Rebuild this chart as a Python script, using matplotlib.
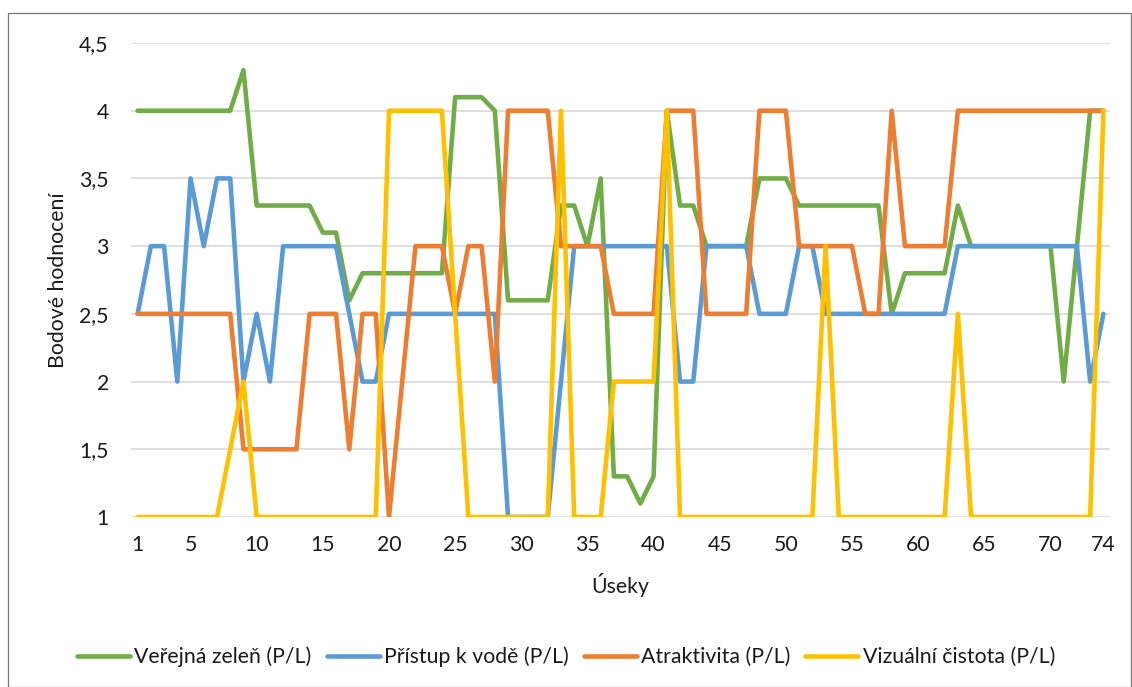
import matplotlib
matplotlib.use("Agg")
import matplotlib.pyplot as plt
from matplotlib.patches import Rectangle

plt.rcParams['font.family'] = ['Lato', 'DejaVu Sans']

# Segment numbers along the route
useky = list(range(1, 75))

verejna_zelen = [
    4.0, 4.0, 4.0, 4.0, 4.0, 4.0, 4.0, 4.0, 4.3, 3.3,
    3.3, 3.3, 3.3, 3.3, 3.1, 3.1, 2.6, 2.8, 2.8, 2.8,
    2.8, 2.8, 2.8, 2.8, 4.1, 4.1, 4.1, 4.0, 2.6, 2.6,
    2.6, 2.6, 3.3, 3.3, 3.0, 3.5, 1.3, 1.3, 1.1, 1.3,
    4.0, 3.3, 3.3, 3.0, 3.0, 3.0, 3.0, 3.5, 3.5, 3.5,
    3.3, 3.3, 3.3, 3.3, 3.3, 3.3, 3.3, 2.5, 2.8, 2.8,
    2.8, 2.8, 3.3, 3.0, 3.0, 3.0, 3.0, 3.0, 3.0, 3.0,
    2.0, 3.0, 4.0, 4.0,
]

pristup_k_vode = [
    2.5, 3.0, 3.0, 2.0, 3.5, 3.0, 3.5, 3.5, 2.0, 2.5,
    2.0, 3.0, 3.0, 3.0, 3.0, 3.0, 2.5, 2.0, 2.0, 2.5,
    2.5, 2.5, 2.5, 2.5, 2.5, 2.5, 2.5, 2.5, 1.0, 1.0,
    1.0, 1.0, 2.0, 3.0, 3.0, 3.0, 3.0, 3.0, 3.0, 3.0,
    3.0, 2.0, 2.0, 3.0, 3.0, 3.0, 3.0, 2.5, 2.5, 2.5,
    3.0, 3.0, 2.5, 2.5, 2.5, 2.5, 2.5, 2.5, 2.5, 2.5,
    2.5, 2.5, 3.0, 3.0, 3.0, 3.0, 3.0, 3.0, 3.0, 3.0,
    3.0, 3.0, 2.0, 2.5,
]

atraktivita = [
    2.5, 2.5, 2.5, 2.5, 2.5, 2.5, 2.5, 2.5, 1.5, 1.5,
    1.5, 1.5, 1.5, 2.5, 2.5, 2.5, 1.5, 2.5, 2.5, 1.0,
    2.0, 3.0, 3.0, 3.0, 2.5, 3.0, 3.0, 2.0, 4.0, 4.0,
    4.0, 4.0, 3.0, 3.0, 3.0, 3.0, 2.5, 2.5, 2.5, 2.5,
    4.0, 4.0, 4.0, 2.5, 2.5, 2.5, 2.5, 4.0, 4.0, 4.0,
    3.0, 3.0, 3.0, 3.0, 3.0, 2.5, 2.5, 4.0, 3.0, 3.0,
    3.0, 3.0, 4.0, 4.0, 4.0, 4.0, 4.0, 4.0, 4.0, 4.0,
    4.0, 4.0, 4.0, 4.0,
]

vizualni_cistota = [
    1.0, 1.0, 1.0, 1.0, 1.0, 1.0, 1.0, 1.5, 2.0, 1.0,
    1.0, 1.0, 1.0, 1.0, 1.0, 1.0, 1.0, 1.0, 1.0, 4.0,
    4.0, 4.0, 4.0, 4.0, 2.5, 1.0, 1.0, 1.0, 1.0, 1.0,
    1.0, 1.0, 4.0, 1.0, 1.0, 1.0, 2.0, 2.0, 2.0, 2.0,
    4.0, 1.0, 1.0, 1.0, 1.0, 1.0, 1.0, 1.0, 1.0, 1.0,
    1.0, 1.0, 3.0, 1.0, 1.0, 1.0, 1.0, 1.0, 1.0, 1.0,
    1.0, 1.0, 2.5, 1.0, 1.0, 1.0, 1.0, 1.0, 1.0, 1.0,
    1.0, 1.0, 1.0, 4.0,
]

series_names = [
    "Veřejná zeleň (P/L)",
    "Přístup k vodě (P/L)",
    "Atraktivita (P/L)",
    "Vizuální čistota (P/L)",
]
series_colors = ["#70AD47", "#5B9BD5", "#ED7D31", "#FFC000"]

x_ticks = [1, 5, 10, 15, 20, 25, 30, 35, 40, 45, 50, 55, 60, 65, 70, 74]
y_ticks = [1, 1.5, 2, 2.5, 3, 3.5, 4, 4.5]
y_tick_labels = ["1", "1,5", "2", "2,5", "3", "3,5", "4", "4,5"]

FS = 15.3
W, H = 1132, 687
fig = plt.figure(figsize=(W / 100, H / 100), dpi=100)

# chart-area frame
fig.patches.append(Rectangle((8 / W, 0.5 / H), (W - 9) / W, (H - 13.5) / H,
                             transform=fig.transFigure, fill=False,
                             edgecolor="#767676", linewidth=0.9))

ax = fig.add_axes([131 / W, (H - 517) / H, (1110 - 131) / W, (517 - 43) / H])

series = [verejna_zelen, pristup_k_vode, atraktivita, vizualni_cistota]
for vals, name, col in zip(series, series_names, series_colors):
    ax.plot(useky, vals, color=col, linewidth=3.3, label=name,
            solid_joinstyle="round", solid_capstyle="round", zorder=3)

ax.set_xlim(0.5, 74.5)
ax.set_ylim(1, 4.5)
ax.set_xticks(x_ticks)
ax.set_xticklabels([str(t) for t in x_ticks])
ax.set_yticks(y_ticks)
ax.set_yticklabels(y_tick_labels)
ax.tick_params(axis="both", length=0, labelsize=FS, colors="#1a1a1a")
ax.tick_params(axis="y", pad=16)
ax.tick_params(axis="x", pad=13)
ax.grid(axis="y", color="#d9d9d9", linewidth=1.2, zorder=0)
for s in ax.spines.values():
    s.set_visible(False)

fig.text(58 / W, 1 - 280 / H, "Bodové hodnocení", rotation=90,
         ha="center", va="center", fontsize=FS, color="#1a1a1a")
fig.text(620 / W, 1 - 585 / H, "Úseky", ha="center", va="center",
         fontsize=FS, color="#1a1a1a")

fig.legend(loc="center", bbox_to_anchor=(0.5, 1 - 657 / H), ncol=4,
           frameon=False, fontsize=FS, handlelength=2.5, handletextpad=0.2,
           columnspacing=0.7, labelcolor="#1a1a1a")

fig.savefig("out.png", dpi=100)
